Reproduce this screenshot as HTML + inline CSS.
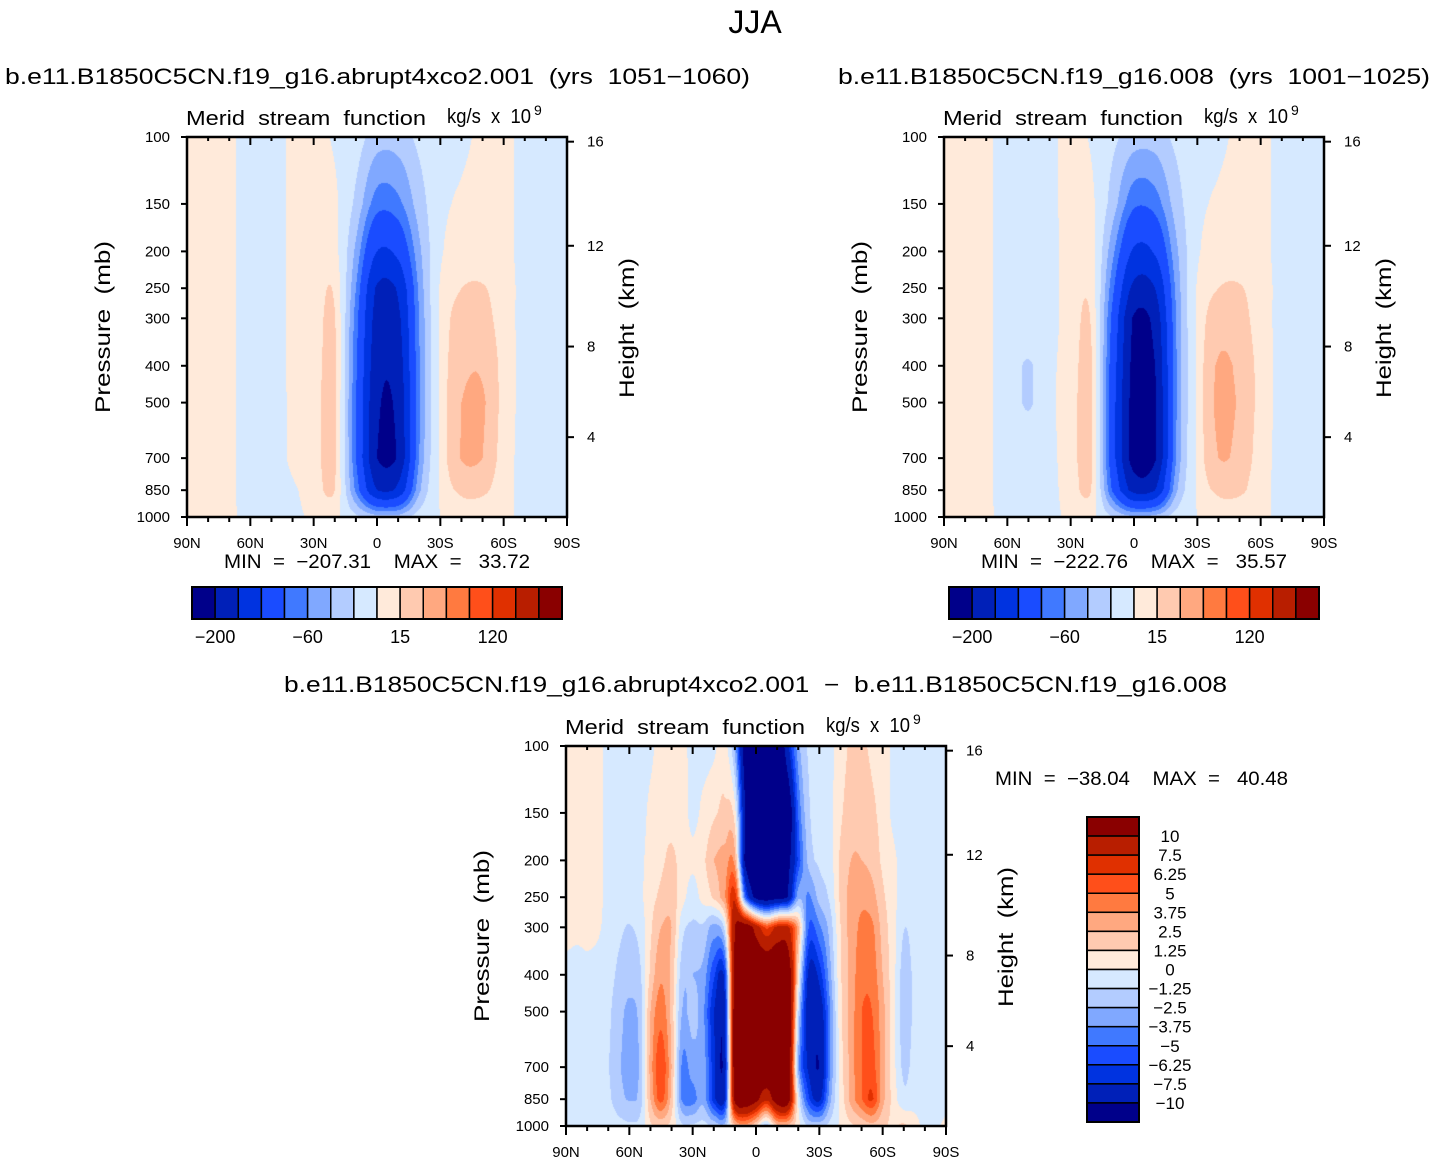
<!DOCTYPE html>
<html><head><meta charset="utf-8">
<style>
html,body{margin:0;padding:0;background:#fff;}
#root{position:relative;width:1434px;height:1163px;overflow:hidden;font-family:"Liberation Sans",sans-serif;}
canvas{position:absolute;}
svg{position:absolute;left:0;top:0;}
text{font-family:"Liberation Sans",sans-serif;fill:#000;white-space:pre;}
</style></head>
<body>
<div id="root">
<canvas id="c1" width="380" height="380" style="left:187px;top:137px"></canvas>
<canvas id="c2" width="380" height="380" style="left:944px;top:137px"></canvas>
<canvas id="c3" width="380" height="380" style="left:566px;top:746px"></canvas>
<svg id="ov" width="1434" height="1163"></svg>
</div>
<script>
// ---- data ----
const pLevels=[100,150,200,250,300,400,500,700,850,1000];
const latLabels=['90N','60N','30N','0','30S','60S','90S'];
const heightTicks=[16,12,8,4];
const colors=['#00008a','#0020b8','#0033e0','#1a4cff','#4079ff','#80a8ff','#b3ccff','#d6e9ff','#ffeada','#ffcab0','#ffa880','#ff7a40','#ff4f1a','#e03000','#b81e00','#8a0000'];
const levelsAbs=[-200,-160,-120,-80,-60,-40,-20,0,15,30,60,90,120,160,200];
const levelsAbsLabels=['−200','−60','15','120'];
const levelsDiff=[-10,-7.5,-6.25,-5,-3.75,-2.5,-1.25,0,1.25,2.5,3.75,5,6.25,7.5,10];
const levelsDiffLabels=['10','7.5','6.25','5','3.75','2.5','1.25','0','−1.25','−2.5','−3.75','−5','−6.25','−7.5','−10'];
// panel 1 columns 90N..90S every 10deg; values at pLevels
const field1=[
[5,5,5,5,5,5,5,5,5,5],[5,5,5,5,5,5,5,5,5,5],[3,3,3,3,3,3,3,3,3,3],
[-8,-8,-8,-8,-8,-8,-8,-8,-8,-5],[-8,-8,-8,-8,-8,-8,-8,-8,-8,-5],
[3,3,3,3,3,3,3,3,-2,-3],[5,5,5,5,5,6,8,8,6,2],[-2,3,5,12,16,18,18,18,15,3],
[-10,-25,-45,-60,-70,-75,-80,-80,-65,-15],
[-30,-70,-120,-165,-175,-185,-192,-200,-160,-30],
[-30,-65,-110,-155,-168,-180,-188,-195,-150,-30],
[-15,-30,-45,-55,-60,-62,-65,-60,-45,-10],
[-5,-5,-3,2,3,3,3,3,2,0],
[-3,2,5,15,20,25,30,31,18,5],[3,5,8,16,20,28,32,30,18,5],
[5,5,5,8,8,10,10,8,6,3],[-5,-5,-5,-5,-5,-5,-5,-5,-5,-3],
[-5,-5,-5,-5,-5,-5,-5,-5,-5,-3],[-3,-3,-3,-3,-3,-3,-3,-3,-3,0]];
const field2=[
[5,5,5,5,5,5,5,5,5,5],[5,5,5,5,5,5,5,5,5,5],[3,3,3,3,3,3,3,3,3,3],
[-8,-8,-8,-8,-8,-8,-8,-8,-8,-5],[-8,-8,-8,-8,-8,-22,-22,-8,-8,-5],
[-4,-4,-4,-4,-4,-4,-4,-4,-4,-3],[5,5,5,5,5,6,8,8,6,2],[-2,3,5,8,12,16,16,16,14,3],
[-15,-30,-55,-75,-90,-100,-105,-105,-85,-20],
[-30,-75,-125,-170,-205,-212,-216,-220,-175,-35],
[-30,-70,-115,-160,-185,-200,-205,-205,-160,-30],
[-15,-30,-45,-55,-60,-62,-62,-60,-45,-10],
[-5,-5,-3,2,3,3,3,3,2,0],
[-3,2,5,15,22,32,34,30,18,5],[3,5,8,16,20,26,28,25,18,5],
[5,5,5,8,8,10,10,8,6,3],[-5,-5,-5,-5,-5,-5,-5,-5,-5,-3],
[-5,-5,-5,-5,-5,-5,-5,-5,-5,-3],[-3,-3,-3,-3,-3,-3,-3,-3,-3,0]];
// difference columns 90N..90S every 5deg
const field3=[
[0.5,0.5,0.5,0.5,0.5,-0.5,-0.5,-0.5,-0.5,-0.3],
[0.5,0.5,0.5,0.5,0.3,-0.5,-0.5,-0.5,-0.5,-0.3],
[0.5,0.5,0.5,0.5,0.3,-0.3,-0.5,-0.5,-0.5,-0.3],
[0.5,0.5,0.5,0.5,0.2,-0.5,-0.5,-0.8,-0.6,-0.3],
[-0.5,-0.5,-0.5,-0.5,-0.5,-0.8,-1,-1.2,-1,-0.5],
[-0.5,-0.5,-0.5,-0.5,-1,-1.5,-2,-2.3,-2,-0.8],
[-0.5,-0.5,-0.5,-0.8,-1.3,-2,-2.8,-3.2,-2.6,-1],
[-0.5,-0.5,-0.3,-0.3,-0.8,-1.5,-2,-2.3,-2,-0.8],
[-0.3,0.3,0.5,0.8,1,1.5,2.5,3,2.5,1],
[0.5,0.8,1,1.5,2.5,3.5,4.5,6,5.5,1.5],
[0.5,0.8,1.5,2,2.5,2,2,2.5,2,0.8],
[0.3,0.5,0.8,0.5,-0.8,-2,-2.5,-4,-4,-1],
[-0.3,-0.3,0.3,-0.5,-1.5,-2.5,-2,-3,-4.5,-1],
[-0.5,0.3,1,0.5,-1.5,-3,-3.5,-3,-3,-0.8],
[-0.3,1,2.5,1.5,-3,-6,-7.5,-7,-7,-1.5],
[0.5,1.5,3,3.5,-1,-7,-8.5,-9,-8,-2],
[-3,0.5,3,7,10,11,12,12,11,2],
[-12,-10,-11,-5,12,14,14,14,13,3],
[-14,-14,-14,-11,9,14,14,14,11,1],
[-15,-15,-14,-12,6,14,14,14,8,-2],
[-14,-14,-13,-11,8,14,14,14,12,2],
[-8,-13,-11,-10,8,13,14,13,12,2],
[-3,-5,-6,-3,3,1,-1,-3,0,0.5],
[-1,-1.5,-2,-4,-5,-8,-9,-8,-6,-1.5],
[-0.5,-0.5,-1,-2,-4,-7,-9,-10,-8,-1.5],
[-0.3,-0.3,-0.5,-1,-2,-3,-4,-4,-3,-0.8],
[0.5,1,1.5,1.5,1.2,1,0.8,0.5,0.3,0.2],
[1.5,2,2.5,3,3,3,3,3,3,1],
[1.5,2,2.5,3.5,4,4.5,5,5,5,1.5],
[1,1.5,2,3,4,4.5,5,5.5,6.5,2],
[0.8,0.8,1,1.5,2,2.5,3,3,3,1.5],
[-0.3,-0.3,0.3,0.5,0.5,0.5,0.5,0.5,0.8,1],
[-0.5,-0.5,-0.5,-0.8,-1.2,-1.8,-2,-1.5,-1,1.5],
[-0.5,-0.5,-0.5,-0.5,-0.8,-1,-1,-0.8,-0.5,0.5],
[-0.5,-0.5,-0.5,-0.5,-0.5,-0.5,-0.5,-0.5,-0.3,-0.3],
[-0.5,-0.5,-0.5,-0.5,-0.5,-0.5,-0.5,-0.5,-0.5,-0.3],
[-0.5,-0.5,-0.5,-0.5,-0.5,-0.5,-0.5,-0.5,-0.5,0.3]];

// ---- scales ----
const W=380,H=380;
function yOfP(p){return H*Math.log10(p/100);}
function xOfLat(d){return W*d/180;} // d = degrees from 90N
function cr(p0,p1,p2,p3,t){return 0.5*((2*p1)+(-p0+p2)*t+(2*p0-5*p1+4*p2-p3)*t*t+(-p0+3*p1-3*p2+p3)*t*t*t);}
function hex(c){return [parseInt(c.substr(1,2),16),parseInt(c.substr(3,2),16),parseInt(c.substr(5,2),16)];}
const rgb=colors.map(hex);
function draw(id,field,levels){
  const cv=document.getElementById(id),ctx=cv.getContext('2d');
  const img=ctx.createImageData(W,H),n=field.length;
  const ly=pLevels.map(yOfP);
  for(let y=0;y<H;y++){
    let r=0;while(r<ly.length-2&&y+0.5>ly[r+1])r++;
    const ty=Math.min(1,Math.max(0,(y+0.5-ly[r])/(ly[r+1]-ly[r])));
    for(let x=0;x<W;x++){
      const u=(x+0.5)/W*(n-1);let i=Math.min(n-2,Math.floor(u));const t=u-i;
      const g=(k,row)=>field[Math.max(0,Math.min(n-1,k))][row];
      const a=cr(g(i-1,r),g(i,r),g(i+1,r),g(i+2,r),t);
      const b=cr(g(i-1,r+1),g(i,r+1),g(i+1,r+1),g(i+2,r+1),t);
      const v=a+(b-a)*ty;
      let k=0;while(k<levels.length&&v>=levels[k])k++;
      const c=rgb[k],o=(y*W+x)*4;
      img.data[o]=c[0];img.data[o+1]=c[1];img.data[o+2]=c[2];img.data[o+3]=255;
    }
  }
  ctx.putImageData(img,0,0);
}
draw('c1',field1,levelsAbs);draw('c2',field2,levelsAbs);draw('c3',field3,levelsDiff);

// ---- overlay ----
const NS='http://www.w3.org/2000/svg',ov=document.getElementById('ov');
function el(tag,attrs,txt){const e=document.createElementNS(NS,tag);for(const k in attrs)e.setAttribute(k,attrs[k]);if(txt!==undefined)e.textContent=txt;ov.appendChild(e);return e;}
function zOfP(h){const m=h*1000;return m<=11000?1013.25*Math.pow(1-2.25577e-5*m,5.25588):226.32*Math.exp(-(m-11000)/6341.6);}
function axes(X,Y,pre){
  let e;
  for(let d=0;d<=180;d+=10){
    const x=X+xOfLat(d),maj=d%30===0;
    e=el('line',{x1:x,y1:Y,x2:x,y2:Y+(maj?8:4),stroke:'#000','stroke-width':2});
    
    e=el('line',{x1:x,y1:Y+H,x2:x,y2:Y+H+(maj?9:5),stroke:'#000','stroke-width':2});
    
  }
  latLabels.forEach((s,i)=>{e=el('text',{x:X+xOfLat(i*30),y:Y+H+31,'font-size':15,'text-anchor':'middle'},s);
    });
  pLevels.forEach(p=>{const y=Y+yOfP(p);
    e=el('line',{x1:X-6,y1:y,x2:X,y2:y,stroke:'#000','stroke-width':2});
    
    e=el('text',{x:X-17,y:y+5,'font-size':15,'text-anchor':'end'},String(p));
    });
  heightTicks.forEach(h=>{const y=Y+yOfP(zOfP(h));
    e=el('line',{x1:X+W,y1:y,x2:X+W+7,y2:y,stroke:'#000','stroke-width':2});
    
    e=el('text',{x:X+W+20,y:y+5,'font-size':15},String(h));
    });
  e=el('rect',{x:X,y:Y,width:W,height:H,fill:'none',stroke:'#000','stroke-width':2.5});
  
  e=el('text',{x:X-1,y:Y-12,'font-size':20,textLength:240,lengthAdjust:'spacingAndGlyphs'},'Merid  stream  function');
  
  e=el('text',{x:X+260,y:Y-14,'font-size':20,textLength:84,lengthAdjust:'spacingAndGlyphs'},'kg/s  x  10');
  
  e=el('text',{x:X+347,y:Y-22,'font-size':14},'9');
  
  e=el('text',{x:0,y:0,'font-size':21,'text-anchor':'middle',transform:`translate(${X-77},${Y+190}) rotate(-90)`,textLength:172,lengthAdjust:'spacingAndGlyphs'},'Pressure  (mb)');
  
  e=el('text',{x:0,y:0,'font-size':21,'text-anchor':'middle',transform:`translate(${X+W+67},${Y+191}) rotate(-90)`,textLength:140,lengthAdjust:'spacingAndGlyphs'},'Height  (km)');
  
}
function hbar(X,Y,pre){
  let e;const bw=370/16;
  colors.forEach((c,i)=>{e=el('rect',{x:X+i*bw,y:Y,width:bw,height:32,fill:c,stroke:'#000','stroke-width':1.5});
    });
  e=el('rect',{x:X,y:Y,width:370,height:32,fill:'none',stroke:'#000','stroke-width':2});
  
  levelsAbsLabels.forEach((s,j)=>{e=el('text',{x:X+(1+4*j)*bw,y:Y+56,'font-size':18,'text-anchor':'middle'},s);
    });
}
let t;
t=el('text',{x:755,y:33,'font-size':32,'text-anchor':'middle'},'JJA');

t=el('text',{x:5,y:84,'font-size':22,textLength:745,lengthAdjust:'spacingAndGlyphs'},'b.e11.B1850C5CN.f19_g16.abrupt4xco2.001  (yrs  1051−1060)');

t=el('text',{x:838,y:84,'font-size':22,textLength:592,lengthAdjust:'spacingAndGlyphs'},'b.e11.B1850C5CN.f19_g16.008  (yrs  1001−1025)');

t=el('text',{x:284,y:692,'font-size':22,textLength:943,lengthAdjust:'spacingAndGlyphs'},'b.e11.B1850C5CN.f19_g16.abrupt4xco2.001  −  b.e11.B1850C5CN.f19_g16.008');

axes(187,137,'panel1');axes(944,137,'panel2');axes(566,746,'panel3');
t=el('text',{x:224,y:568,'font-size':19,textLength:306,lengthAdjust:'spacingAndGlyphs'},'MIN  =  −207.31    MAX  =   33.72');

t=el('text',{x:981,y:568,'font-size':19,textLength:306,lengthAdjust:'spacingAndGlyphs'},'MIN  =  −222.76    MAX  =   35.57');

t=el('text',{x:995,y:785,'font-size':19,textLength:293,lengthAdjust:'spacingAndGlyphs'},'MIN  =  −38.04    MAX  =   40.48');

hbar(192,587,'panel1');hbar(949,587,'panel2');
// vertical colorbar
const vb=305/16;
colors.slice().reverse().forEach((c,i)=>{t=el('rect',{x:1087,y:817+i*vb,width:52,height:vb,fill:c,stroke:'#000','stroke-width':1.5});
  });
t=el('rect',{x:1087,y:817,width:52,height:305,fill:'none',stroke:'#000','stroke-width':2});

levelsDiffLabels.forEach((s,i)=>{t=el('text',{x:1170,y:817+(i+1)*vb+6,'font-size':17,'text-anchor':'middle'},s);
  });
</script>
</body></html>
